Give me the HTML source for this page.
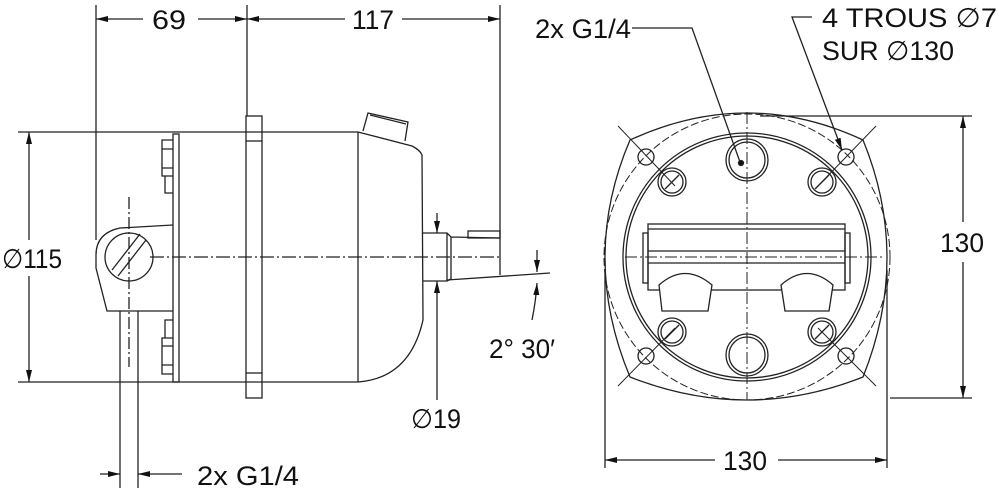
<!DOCTYPE html>
<html><head><meta charset="utf-8"><style>
html,body{margin:0;padding:0;background:#fff;width:999px;height:488px;overflow:hidden}
svg{display:block}
text{font-family:"Liberation Sans",sans-serif;fill:#111;font-size:27px}
</style></head><body>
<svg width="999" height="488" viewBox="0 0 999 488" xmlns="http://www.w3.org/2000/svg">
<defs>
<marker id="a" viewBox="0 0 12 6" refX="12" refY="3" markerWidth="12" markerHeight="6" markerUnits="userSpaceOnUse" orient="auto-start-reverse"><path d="M0,0 L12,3 L0,6z" fill="#111"/></marker>
</defs>
<g stroke="#222" stroke-width="1.3" fill="none">
<line x1="96" y1="5" x2="96" y2="240"/>
<line x1="247" y1="5" x2="247" y2="116"/>
<line x1="500" y1="5" x2="500" y2="275"/>
<line x1="96" y1="19" x2="143" y2="19" marker-start="url(#a)"/>
<line x1="198" y1="19" x2="247" y2="19" marker-end="url(#a)"/>
<line x1="247" y1="19" x2="345" y2="19" marker-start="url(#a)"/>
<line x1="402" y1="19" x2="500" y2="19" marker-end="url(#a)"/>
<line x1="18" y1="132" x2="358" y2="132"/>
<line x1="18" y1="382" x2="358" y2="382"/>
<line x1="29" y1="132" x2="29" y2="240" marker-start="url(#a)"/>
<line x1="29" y1="276" x2="29" y2="382" marker-end="url(#a)"/>
<path d="M173,225 L120,228 Q96,233 96,255 L96,268 L107,311 L173,311"/>
<circle cx="129" cy="257" r="24"/>
<line x1="112" y1="270" x2="140" y2="234"/>
<line x1="118" y1="276" x2="146" y2="240"/>
<line x1="129" y1="197" x2="129" y2="367" stroke-dasharray="12,3,2,3"/>
<line x1="120" y1="311" x2="120" y2="488"/>
<line x1="138" y1="311" x2="138" y2="488"/>
<rect x="173" y="134" width="6" height="248"/>
<path d="M173,140 L162,140 L162,176 L173,176 M162,149 L173,149 M162,168 L173,168 M165,176 L165,193 L173,193"/>
<path d="M173,374 L162,374 L162,338 L173,338 M162,365 L173,365 M162,346 L173,346 M165,338 L165,320 L173,320"/>
<rect x="246" y="116" width="16" height="282"/>
<line x1="246" y1="141" x2="262" y2="141"/>
<line x1="246" y1="373" x2="262" y2="373"/>
<line x1="358" y1="132" x2="358" y2="382"/>
<path d="M358,132 L412,146 Q420,150 422,155 L423,320 Q410,378 358,382"/>
<path d="M363,131 L368,113 L408,122 L405,141"/>
<line x1="370" y1="115" x2="406" y2="124"/>
<path d="M423,233 L447,233 L451,237 L500,238 M447,233 L447,281 L423,281 M451,237 L451,279 L447,281"/>
<rect x="468" y="231" width="32" height="7"/>
<line x1="447" y1="280" x2="550" y2="273"/>
<line x1="150" y1="257" x2="500" y2="257" stroke-dasharray="14,3,2,3"/>
<line x1="437" y1="213" x2="437" y2="233" marker-end="url(#a)"/>
<line x1="437" y1="400" x2="437" y2="281" marker-end="url(#a)"/>
<line x1="537" y1="250" x2="537" y2="272" marker-end="url(#a)"/>
<path d="M532,320 Q536,300 537,283" marker-end="url(#a)"/>
<line x1="100" y1="474" x2="120" y2="474" marker-end="url(#a)"/>
<line x1="182" y1="474" x2="138" y2="474" marker-end="url(#a)"/>
<path d="M630,140 Q747,86 863,140 Q911,257 863,377 Q747,423 630,377 Q580,257 630,140Z"/>
<circle cx="747" cy="257" r="124"/>
<circle cx="747" cy="257" r="121"/>
<circle cx="747" cy="257" r="143" stroke-dasharray="8,3" stroke-width="1"/>
<g stroke-width="1">
<line x1="618" y1="126" x2="675" y2="186"/><line x1="876" y1="126" x2="818" y2="186"/>
<line x1="618" y1="386" x2="675" y2="328"/><line x1="876" y1="386" x2="818" y2="328"/>
</g>
<circle cx="646" cy="157" r="8"/><circle cx="846" cy="157" r="8"/>
<circle cx="646" cy="356" r="8"/><circle cx="846" cy="356" r="8"/>
<circle cx="747" cy="160" r="21"/><circle cx="747" cy="160" r="18"/>
<circle cx="747" cy="355" r="21"/><circle cx="747" cy="355" r="18"/>
<circle cx="672" cy="182" r="14"/><circle cx="672" cy="182" r="11"/><line x1="665" y1="189" x2="679" y2="175"/>
<circle cx="822" cy="182" r="14"/><circle cx="822" cy="182" r="11"/><line x1="815" y1="189" x2="829" y2="175"/>
<circle cx="672" cy="332" r="14"/><circle cx="672" cy="332" r="11"/><line x1="665" y1="339" x2="679" y2="325"/>
<circle cx="822" cy="332" r="14"/><circle cx="822" cy="332" r="11"/><line x1="815" y1="339" x2="829" y2="325"/>
<rect x="648" y="224" width="197" height="66"/>
<line x1="648" y1="229" x2="845" y2="229"/>
<line x1="648" y1="251" x2="845" y2="251"/>
<line x1="648" y1="263" x2="845" y2="263"/>
<rect x="643" y="233" width="5" height="50"/><rect x="845" y="233" width="5" height="50"/>
<path d="M659,285 Q685,262 712,285 L708,311 L662,311 Z" fill="#fff"/>
<path d="M781,285 Q807,262 833,285 L829,311 L785,311 Z" fill="#fff"/>
<line x1="747" y1="112" x2="747" y2="400" stroke-dasharray="12,3,2,3" stroke-width="1"/>
<line x1="625" y1="257" x2="885" y2="257" stroke-dasharray="12,3,2,3" stroke-width="1"/>
<line x1="760" y1="116" x2="972" y2="116"/>
<line x1="890" y1="398" x2="972" y2="398"/>
<line x1="963" y1="116" x2="963" y2="222" marker-start="url(#a)"/>
<line x1="963" y1="262" x2="963" y2="398" marker-end="url(#a)"/>
<line x1="605" y1="270" x2="605" y2="468"/>
<line x1="887" y1="270" x2="887" y2="468"/>
<line x1="605" y1="460" x2="715" y2="460" marker-start="url(#a)"/>
<line x1="778" y1="460" x2="887" y2="460" marker-end="url(#a)"/>
<path d="M632,28 L692,28 L740,162"/>
<circle cx="741" cy="163" r="2.5" fill="#111"/>
<path d="M812,17 L792,17 L842,150" marker-end="url(#a)"/>
</g>
<g>
<text x="152" y="29" textLength="34" lengthAdjust="spacingAndGlyphs">69</text>
<text x="352" y="29" textLength="42" lengthAdjust="spacingAndGlyphs">117</text>
<text x="2" y="268" textLength="60" lengthAdjust="spacingAndGlyphs">∅115</text>
<text x="411" y="428" textLength="50" lengthAdjust="spacingAndGlyphs">∅19</text>
<text x="489" y="358" textLength="66" lengthAdjust="spacingAndGlyphs">2° 30′</text>
<text x="197" y="485" textLength="102" lengthAdjust="spacingAndGlyphs">2x  G1/4</text>
<text x="535" y="38" textLength="96" lengthAdjust="spacingAndGlyphs">2x  G1/4</text>
<text x="822" y="27" textLength="175" lengthAdjust="spacingAndGlyphs">4  TROUS  ∅7</text>
<text x="822" y="60" textLength="132" lengthAdjust="spacingAndGlyphs">SUR  ∅130</text>
<text x="940" y="252" textLength="44" lengthAdjust="spacingAndGlyphs">130</text>
<text x="723" y="470" textLength="44" lengthAdjust="spacingAndGlyphs">130</text>
</g>
</svg>
</body></html>
